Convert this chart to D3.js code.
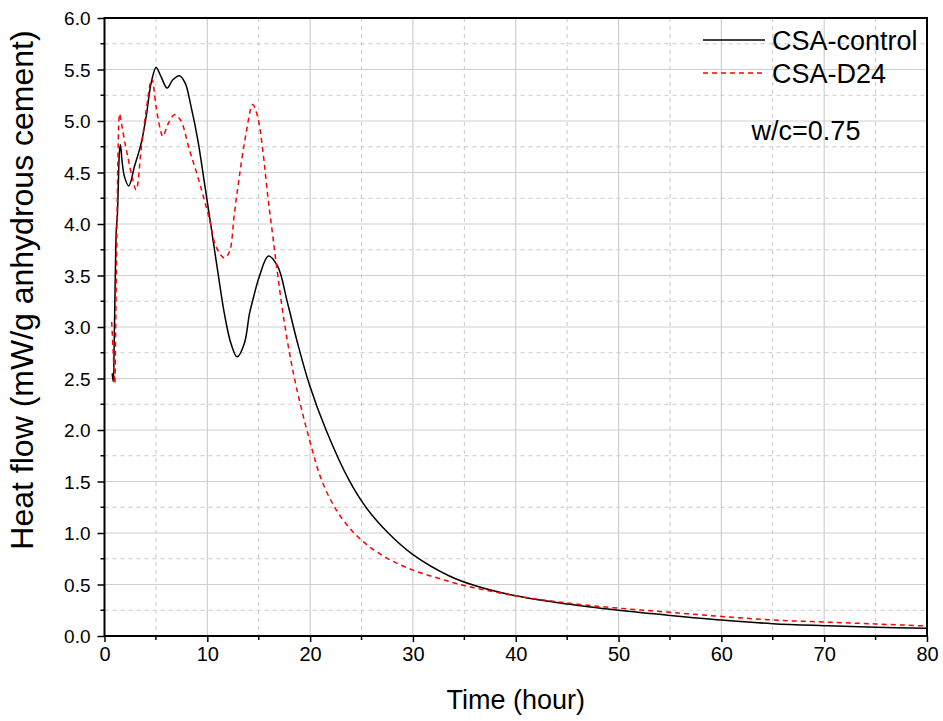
<!DOCTYPE html>
<html>
<head>
<meta charset="utf-8">
<script src="https://cdnjs.cloudflare.com/ajax/libs/d3/7.8.5/d3.min.js"></script>
<style>
  html, body { margin: 0; padding: 0; background: #fff; }
  svg { display: block; font-family: "Liberation Sans", Arial, sans-serif; }
</style>
</head>
<body>
<svg id="chart" width="943" height="721"></svg>
<script>
// ---- Data ----
const controlTime = [0.75, 0.85, 0.95, 1.05, 1.15, 1.25, 1.35, 1.45, 1.55, 1.7, 1.94, 2.36, 2.92, 3.56, 4.05, 4.54, 5.02, 5.5, 6.09, 6.64, 7.29, 7.84, 8.42, 9.07, 9.72, 10.37, 11.0, 11.66, 12.3, 12.9, 13.6, 14.1, 14.42, 15.06, 15.94, 16.84, 17.81, 18.79, 19.9, 21.55, 23.8, 25.5, 27.7, 30.0, 33.6, 36, 40, 45, 50, 55, 60, 65, 70, 75, 80];
const controlFlow = [2.55, 2.47, 2.9, 3.5, 3.95, 4.08, 4.4, 4.7, 4.77, 4.62, 4.46, 4.37, 4.56, 4.78, 5.04, 5.37, 5.52, 5.43, 5.32, 5.40, 5.44, 5.37, 5.14, 4.82, 4.40, 3.97, 3.55, 3.13, 2.84, 2.71, 2.84, 3.13, 3.26, 3.49, 3.69, 3.59, 3.23, 2.84, 2.45, 2.0, 1.51, 1.24, 0.99, 0.79, 0.58, 0.49, 0.39, 0.31, 0.25, 0.20, 0.155, 0.12, 0.10, 0.084, 0.075];

const d24Time = [0.70, 0.85, 1.0, 1.1, 1.2, 1.3, 1.4, 1.46, 1.7, 2.0, 2.27, 2.7, 3.08, 3.56, 4.05, 4.6, 5.02, 5.44, 5.67, 6.22, 6.8, 7.39, 8.26, 9.07, 10.2, 10.85, 11.66, 12.15, 12.63, 13.1, 13.77, 14.42, 14.9, 15.39, 15.88, 16.26, 16.7, 17.5, 18.5, 19.95, 21.25, 22.9, 25.0, 27.4, 30.0, 32.5, 35, 40, 45, 50, 55, 60, 65, 70, 75, 80];
const d24Flow = [3.05, 2.75, 2.45, 3.1, 3.9, 4.6, 5.0, 5.07, 4.95, 4.78, 4.65, 4.45, 4.33, 4.72, 5.1, 5.41, 5.14, 4.91, 4.85, 4.98, 5.06, 5.01, 4.72, 4.46, 4.05, 3.78, 3.67, 3.73, 4.10, 4.45, 4.88, 5.16, 5.04, 4.72, 4.27, 3.97, 3.62, 3.04, 2.49, 1.90, 1.48, 1.17, 0.93, 0.76, 0.64, 0.56, 0.49, 0.39, 0.32, 0.27, 0.23, 0.19, 0.155, 0.136, 0.117, 0.097];

const seriesNames = ["CSA-control", "CSA-D24"];
const xTickValues = [0, 10, 20, 30, 40, 50, 60, 70, 80];
const yTickValues = [0.0, 0.5, 1.0, 1.5, 2.0, 2.5, 3.0, 3.5, 4.0, 4.5, 5.0, 5.5, 6.0];
const xTitle = "Time (hour)";
const yTitle = "Heat flow (mW/g anhydrous cement)";
const annotation = "w/c=0.75";

// ---- Layout ----
const svg = d3.select("#chart");
const L = 104.5, R = 927, T = 18, B = 636;
const x = d3.scaleLinear().domain([0, 80]).range([L, R]);
const y = d3.scaleLinear().domain([0, 6]).range([B, T]);

// grid
const xMinor = d3.range(5, 80, 10);
const yMinor = d3.range(0.25, 6, 0.5);
const grid = svg.append("g");
grid.selectAll(".xmin").data(xMinor).join("line")
  .attr("x1", d => x(d)).attr("x2", d => x(d)).attr("y1", T).attr("y2", B)
  .attr("stroke", "#c8c8c8").attr("stroke-width", 1).attr("stroke-dasharray", "4,4");
grid.selectAll(".ymin").data(yMinor).join("line")
  .attr("x1", L).attr("x2", R).attr("y1", d => y(d)).attr("y2", d => y(d))
  .attr("stroke", "#c8c8c8").attr("stroke-width", 1).attr("stroke-dasharray", "4,4");
grid.selectAll(".xmaj").data(xTickValues.slice(1, -1)).join("line")
  .attr("x1", d => x(d)).attr("x2", d => x(d)).attr("y1", T).attr("y2", B)
  .attr("stroke", "#cfcfcf").attr("stroke-width", 1.2);
grid.selectAll(".ymaj").data(yTickValues.slice(1, -1)).join("line")
  .attr("x1", L).attr("x2", R).attr("y1", d => y(d)).attr("y2", d => y(d))
  .attr("stroke", "#cfcfcf").attr("stroke-width", 1.2);

// clip
svg.append("clipPath").attr("id", "clip").append("rect")
  .attr("x", L).attr("y", T).attr("width", R - L).attr("height", B - T);

const line = d3.line().x(d => x(d[0])).y(d => y(d[1])).curve(d3.curveCatmullRom.alpha(0.5));
const controlData = controlTime.map((t, i) => [t, controlFlow[i]]);
const d24Data = d24Time.map((t, i) => [t, d24Flow[i]]);

const plot = svg.append("g").attr("clip-path", "url(#clip)");
plot.append("path").datum(controlData).attr("d", line)
  .attr("fill", "none").attr("stroke", "#000").attr("stroke-width", 1.5);
plot.append("path").datum(d24Data).attr("d", line)
  .attr("fill", "none").attr("stroke", "#ff0000").attr("stroke-width", 1.5)
  .attr("stroke-dasharray", "5,4");

// axes
const xAxis = d3.axisBottom(x).tickValues(xTickValues).tickFormat(d3.format("d")).tickSize(6).tickPadding(5);
const yAxis = d3.axisLeft(y).tickValues(yTickValues).tickFormat(d3.format(".1f")).tickSize(7).tickPadding(7);
const gx = svg.append("g").attr("transform", `translate(0,${B})`).call(xAxis);
const gy = svg.append("g").attr("transform", `translate(${L},0)`).call(yAxis);
[gx, gy].forEach(g => {
  g.select(".domain").remove();
  g.selectAll(".tick line").attr("stroke", "#000").attr("stroke-width", 1.5);
  g.selectAll("text").attr("fill", "#000").attr("font-family", "Liberation Sans, Arial, sans-serif");
});
gx.selectAll("text").attr("font-size", 20);
gy.selectAll("text").attr("font-size", 19).attr("dy", "0.35em");

// minor ticks
svg.append("g").selectAll("line").data(xMinor).join("line")
  .attr("x1", d => x(d)).attr("x2", d => x(d)).attr("y1", B).attr("y2", B + 4)
  .attr("stroke", "#000").attr("stroke-width", 1.5);
svg.append("g").selectAll("line").data(yMinor).join("line")
  .attr("x1", L - 4).attr("x2", L).attr("y1", d => y(d)).attr("y2", d => y(d))
  .attr("stroke", "#000").attr("stroke-width", 1.5);

// frame
svg.append("rect").attr("x", L).attr("y", T).attr("width", R - L).attr("height", B - T)
  .attr("fill", "none").attr("stroke", "#000").attr("stroke-width", 2);

// titles
svg.append("text").attr("x", (L + R) / 2).attr("y", 709).attr("text-anchor", "middle")
  .attr("font-size", 27).attr("fill", "#000").text(xTitle);
svg.append("text").attr("transform", `translate(33,290) rotate(-90)`)
  .attr("text-anchor", "middle").attr("font-size", 32).attr("fill", "#000").text(yTitle);

// legend
const legend = svg.append("g");
const legendStyles = [
  { color: "#000", dash: null, y: 40 },
  { color: "#ff0000", dash: "5,4", y: 73 }
];
seriesNames.forEach((name, i) => {
  const s = legendStyles[i];
  legend.append("line").attr("x1", 703).attr("x2", 765).attr("y1", s.y).attr("y2", s.y)
    .attr("stroke", s.color).attr("stroke-width", 1.5).attr("stroke-dasharray", s.dash);
  legend.append("text").attr("x", 772).attr("y", s.y + 10).attr("font-size", 27)
    .attr("fill", "#000").text(name);
});
svg.append("text").attr("x", 806).attr("y", 140).attr("text-anchor", "middle")
  .attr("font-size", 27).attr("fill", "#000").text(annotation);
</script>
</body>
</html>
